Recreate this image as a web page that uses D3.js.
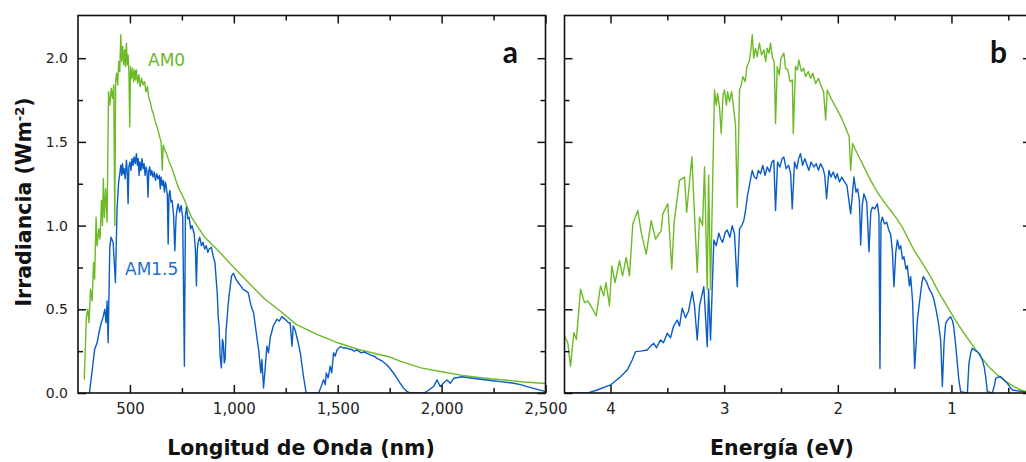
<!DOCTYPE html>
<html>
<head>
<meta charset="utf-8">
<script src="https://cdn.jsdelivr.net/npm/d3@7/dist/d3.min.js"></script>
<style>
  body { margin: 0; background: #fff; }
  text { font-family: "DejaVu Sans", Lato, sans-serif; }
</style>
</head>
<body>
<div id="chart"></div>
<script>
// ---- DATA ----
// panel a: wavelength (nm) vs spectral irradiance
var am0Wavelength = [
  [280, 0.08], [285, 0.25], [290, 0.45], [297, 0.50], [303, 0.42], [310, 0.62],
  [318, 0.55], [325, 0.78], [330, 0.68], [337, 1.05], [342, 0.88], [350, 0.98],
  [356, 0.92], [363, 1.15], [368, 1.00], [372, 1.28], [377, 1.05], [383, 1.22],
  [390, 1.02], [397, 1.80], [403, 1.72], [410, 1.82], [416, 1.76], [422, 1.84],
  [427, 1.00], [431, 1.86], [436, 1.91], [441, 1.84], [446, 1.98], [451, 1.92],
  [456, 2.14], [460, 1.98], [465, 2.07], [470, 1.96], [475, 2.05], [479, 1.95],
  [483, 2.09], [487, 1.96], [491, 2.02], [495, 1.92], [499, 1.59], [503, 1.95],
  [508, 1.88], [513, 1.94], [518, 1.86], [523, 1.93], [527, 1.87], [531, 1.93],
  [537, 1.85], [543, 1.90], [549, 1.83], [556, 1.88], [563, 1.84], [570, 1.86],
  [577, 1.80], [584, 1.83], [591, 1.76], [598, 1.74], [604, 1.70], [612, 1.67],
  [620, 1.63], [628, 1.60], [635, 1.57], [643, 1.53], [650, 1.50], [656, 1.33],
  [660, 1.48], [668, 1.45], [676, 1.43], [684, 1.40], [692, 1.37], [700, 1.35],
  [732, 1.23], [760, 1.16], [796, 1.05], [860, 0.93], [925, 0.85], [1000, 0.75],
  [1070, 0.66], [1150, 0.56], [1223, 0.49], [1300, 0.41], [1400, 0.35], [1480, 0.31],
  [1500, 0.30], [1600, 0.26], [1700, 0.23], [1750, 0.215], [1800, 0.19], [1900, 0.15],
  [2000, 0.127], [2100, 0.105], [2200, 0.09], [2300, 0.078], [2400, 0.066], [2500, 0.057]
];

var am15Wavelength = [
  [305, 0.0], [317, 0.12], [330, 0.26], [342, 0.30], [351, 0.36], [362, 0.42],
  [370, 0.45], [379, 0.50], [385, 0.42], [390, 0.55], [395, 0.30], [403, 0.87],
  [409, 0.93], [419, 0.90], [430, 0.66], [438, 1.10], [445, 1.25], [451, 1.31],
  [456, 1.36], [460, 1.30], [464, 1.37], [468, 1.31], [472, 1.34], [477, 1.28],
  [483, 1.39], [487, 1.32], [491, 1.13], [495, 1.35], [500, 1.38], [505, 1.33],
  [510, 1.40], [515, 1.36], [520, 1.41], [526, 1.37], [531, 1.43], [536, 1.36],
  [540, 1.40], [544, 1.30], [548, 1.38], [553, 1.33], [558, 1.40], [563, 1.34],
  [568, 1.37], [573, 1.30], [578, 1.35], [583, 1.31], [587, 1.17], [591, 1.33],
  [595, 1.35], [600, 1.30], [605, 1.33], [611, 1.29], [617, 1.32], [623, 1.27],
  [629, 1.31], [635, 1.28], [641, 1.30], [646, 1.22], [650, 1.29], [655, 1.24],
  [660, 1.27], [666, 1.20], [670, 1.26], [674, 1.24], [680, 1.18], [684, 0.89],
  [688, 1.18], [692, 1.21], [698, 1.14], [703, 1.15], [710, 1.06], [716, 0.85],
  [722, 1.05], [727, 1.10], [732, 1.13], [739, 1.08], [746, 1.12], [754, 1.05],
  [762, 0.16], [767, 1.06], [772, 1.11], [779, 1.04], [785, 1.05], [792, 0.98],
  [799, 1.00], [809, 0.95], [815, 0.86], [820, 0.64], [824, 0.85], [828, 0.90],
  [836, 0.93], [844, 0.88], [852, 0.90], [860, 0.86], [867, 0.88], [875, 0.84],
  [881, 0.86], [892, 0.87], [900, 0.82], [909, 0.78], [915, 0.68], [920, 0.60],
  [925, 0.45], [929, 0.40], [934, 0.22], [940, 0.15], [945, 0.32], [949, 0.30],
  [954, 0.18], [958, 0.20], [963, 0.38], [968, 0.45], [972, 0.52], [977, 0.58],
  [983, 0.64], [989, 0.70], [998, 0.715], [1010, 0.68], [1021, 0.66], [1033, 0.64],
  [1045, 0.62], [1057, 0.61], [1069, 0.60], [1083, 0.52], [1095, 0.48], [1108, 0.36],
  [1120, 0.25], [1130, 0.12], [1135, 0.20], [1143, 0.03], [1151, 0.15], [1159, 0.28],
  [1167, 0.24], [1175, 0.33], [1190, 0.40], [1207, 0.44], [1219, 0.43], [1231, 0.456],
  [1247, 0.44], [1263, 0.42], [1271, 0.42], [1280, 0.28], [1286, 0.40], [1295, 0.376],
  [1310, 0.30], [1320, 0.24], [1335, 0.10], [1348, 0.0], [1408, 0.0], [1421, 0.04],
  [1432, 0.08], [1440, 0.05], [1445, 0.12], [1454, 0.09], [1464, 0.16], [1471, 0.12],
  [1480, 0.24], [1488, 0.22], [1496, 0.257], [1512, 0.277], [1527, 0.27], [1545, 0.267],
  [1565, 0.26], [1580, 0.25], [1593, 0.257], [1613, 0.24], [1627, 0.245], [1641, 0.237],
  [1662, 0.225], [1675, 0.22], [1689, 0.207], [1715, 0.19], [1737, 0.167], [1753, 0.145],
  [1769, 0.118], [1787, 0.085], [1801, 0.058], [1816, 0.03], [1834, 0.008], [1850, 0.0],
  [1914, 0.0], [1936, 0.015], [1962, 0.04], [1978, 0.078], [1994, 0.038], [2009, 0.06],
  [2026, 0.078], [2042, 0.058], [2058, 0.088], [2099, 0.097], [2139, 0.09], [2187, 0.082],
  [2235, 0.075], [2283, 0.068], [2347, 0.058], [2380, 0.05], [2412, 0.038], [2452, 0.025],
  [2500, 0.008]
];

// panel b: photon energy (eV) vs irradiance
var am0Energy = [
  [4.405, 0.34], [4.376, 0.30], [4.352, 0.16], [4.323, 0.36], [4.30, 0.32], [4.264, 0.62],
  [4.229, 0.54], [4.20, 0.55], [4.156, 0.50], [4.126, 0.46], [4.088, 0.64], [4.06, 0.58],
  [4.04, 0.66], [4.009, 0.52], [3.989, 0.76], [3.96, 0.66], [3.921, 0.79], [3.894, 0.70],
  [3.862, 0.81], [3.833, 0.70], [3.804, 1.01], [3.760, 1.09], [3.73, 0.96], [3.686, 0.83],
  [3.642, 1.03], [3.604, 0.92], [3.554, 0.97], [3.540, 1.07], [3.496, 1.13], [3.461, 0.74],
  [3.44, 1.02], [3.393, 1.27], [3.349, 1.29], [3.33, 1.08], [3.284, 1.41], [3.26, 1.05],
  [3.237, 0.72], [3.217, 1.05], [3.19, 1.00], [3.173, 1.35], [3.149, 0.62], [3.137, 1.30],
  [3.120, 0.62], [3.085, 1.81], [3.07, 1.72], [3.058, 1.79], [3.04, 1.70], [3.026, 1.55],
  [3.01, 1.78], [2.997, 1.81], [2.98, 1.72], [2.97, 1.80], [2.953, 1.74], [2.935, 1.80],
  [2.92, 1.72], [2.90, 1.60], [2.885, 1.11], [2.865, 1.81], [2.85, 1.84], [2.835, 1.89],
  [2.815, 1.86], [2.80, 1.95], [2.78, 1.98], [2.765, 2.05], [2.753, 2.14], [2.74, 2.00],
  [2.725, 2.06], [2.709, 2.01], [2.69, 2.09], [2.671, 2.02], [2.65, 2.05], [2.635, 1.98],
  [2.621, 2.06], [2.605, 2.03], [2.592, 2.09], [2.575, 2.00], [2.56, 1.98], [2.548, 1.61],
  [2.533, 1.95], [2.515, 1.90], [2.50, 2.00], [2.475, 2.03], [2.46, 1.94], [2.44, 1.93],
  [2.42, 1.86], [2.40, 1.87], [2.392, 1.55], [2.372, 1.95], [2.355, 1.93], [2.343, 1.99],
  [2.32, 1.92], [2.30, 1.94], [2.284, 1.89], [2.26, 1.92], [2.240, 1.88], [2.22, 1.91],
  [2.196, 1.85], [2.17, 1.88], [2.15, 1.84], [2.125, 1.80], [2.107, 1.63], [2.093, 1.81],
  [2.06, 1.76], [2.020, 1.71], [1.98, 1.66], [1.946, 1.61], [1.90, 1.53], [1.887, 1.33],
  [1.87, 1.49], [1.835, 1.44], [1.799, 1.39], [1.755, 1.33], [1.711, 1.27], [1.67, 1.22],
  [1.623, 1.17], [1.58, 1.13], [1.535, 1.09], [1.48, 1.04], [1.432, 0.99], [1.38, 0.92],
  [1.330, 0.854], [1.26, 0.78], [1.183, 0.695], [1.11, 0.60], [1.036, 0.516], [0.96, 0.43],
  [0.890, 0.357], [0.816, 0.287], [0.743, 0.217], [0.67, 0.155], [0.596, 0.108], [0.52, 0.068],
  [0.450, 0.038], [0.39, 0.018], [0.338, 0.008], [0.30, 0.005]
];

var am15Energy = [
  [4.40, 0.0], [4.20, 0.0], [4.117, 0.018], [4.0, 0.048], [3.912, 0.097], [3.853, 0.137],
  [3.809, 0.197], [3.780, 0.247], [3.736, 0.25], [3.677, 0.257], [3.648, 0.28], [3.619, 0.297],
  [3.595, 0.27], [3.560, 0.317], [3.534, 0.30], [3.501, 0.357], [3.472, 0.33], [3.445, 0.40],
  [3.413, 0.436], [3.393, 0.40], [3.369, 0.506], [3.340, 0.45], [3.313, 0.49], [3.281, 0.605],
  [3.261, 0.52], [3.237, 0.317], [3.217, 0.52], [3.179, 0.635], [3.149, 0.277], [3.137, 0.62],
  [3.120, 0.317], [3.091, 0.914], [3.07, 0.88], [3.047, 0.954], [3.03, 0.92], [3.014, 0.90],
  [2.99, 0.96], [2.973, 0.974], [2.95, 0.93], [2.929, 1.0], [2.909, 0.95], [2.885, 0.635],
  [2.865, 0.98], [2.845, 1.00], [2.827, 1.03], [2.81, 1.10], [2.797, 1.17], [2.775, 1.25],
  [2.753, 1.33], [2.735, 1.29], [2.715, 1.28], [2.70, 1.33], [2.680, 1.31], [2.66, 1.36],
  [2.64, 1.30], [2.621, 1.35], [2.60, 1.32], [2.58, 1.38], [2.563, 1.39], [2.548, 1.09],
  [2.530, 1.38], [2.51, 1.35], [2.49, 1.40], [2.475, 1.41], [2.455, 1.34], [2.433, 1.36],
  [2.415, 1.31], [2.401, 1.10], [2.381, 1.38], [2.36, 1.34], [2.345, 1.40], [2.328, 1.43],
  [2.31, 1.36], [2.29, 1.40], [2.275, 1.37], [2.255, 1.33], [2.235, 1.38], [2.211, 1.35],
  [2.19, 1.37], [2.17, 1.33], [2.152, 1.37], [2.13, 1.34], [2.115, 1.30], [2.099, 1.16],
  [2.078, 1.33], [2.06, 1.29], [2.04, 1.32], [2.02, 1.28], [2.005, 1.31], [1.985, 1.26],
  [1.965, 1.29], [1.949, 1.27], [1.92, 1.24], [1.887, 1.07], [1.858, 1.29], [1.84, 1.20],
  [1.826, 1.22], [1.81, 1.15], [1.799, 0.884], [1.785, 1.12], [1.770, 1.19], [1.745, 1.14],
  [1.726, 0.844], [1.71, 1.08], [1.696, 1.11], [1.675, 1.10], [1.652, 1.13], [1.638, 1.06],
  [1.629, 0.147], [1.62, 1.02], [1.608, 1.05], [1.59, 1.01], [1.570, 1.02], [1.55, 0.97],
  [1.535, 0.95], [1.52, 0.85], [1.506, 0.635], [1.49, 0.84], [1.476, 0.914], [1.46, 0.86],
  [1.447, 0.88], [1.43, 0.80], [1.418, 0.814], [1.40, 0.74], [1.388, 0.76], [1.37, 0.64],
  [1.359, 0.695], [1.342, 0.55], [1.324, 0.147], [1.31, 0.30], [1.300, 0.436], [1.285, 0.52],
  [1.271, 0.60], [1.26, 0.66], [1.248, 0.695], [1.235, 0.68], [1.216, 0.66], [1.195, 0.62],
  [1.174, 0.596], [1.155, 0.56], [1.136, 0.50], [1.115, 0.42], [1.095, 0.317], [1.080, 0.038],
  [1.065, 0.30], [1.051, 0.416], [1.03, 0.44], [1.007, 0.456], [0.99, 0.43], [0.981, 0.40],
  [0.965, 0.30], [0.948, 0.177], [0.935, 0.08], [0.919, 0.008], [0.860, 0.0], [0.846, 0.177],
  [0.83, 0.24], [0.816, 0.267], [0.795, 0.255], [0.772, 0.247], [0.75, 0.23], [0.728, 0.197],
  [0.71, 0.15], [0.699, 0.097], [0.684, 0.008], [0.640, 0.0], [0.62, 0.05], [0.611, 0.088],
  [0.59, 0.095], [0.567, 0.097], [0.54, 0.08], [0.508, 0.058], [0.485, 0.035], [0.464, 0.018],
  [0.391, 0.01], [0.338, 0.005]
];

// ticks
var yMajorTicks = [0, 0.5, 1.0, 1.5, 2.0];
var yMinorTicks = [0.25, 0.75, 1.25, 1.75];
var nmMajorTicks = [500, 1000, 1500, 2000, 2500];
var nmMinorTicks = [750, 1250, 1750, 2250];
var evMajorTicks = [4, 3, 2, 1];
var evMinorTicks = [3.5, 2.5, 1.5, 0.5];

var svgWidth = 1026;
var svgHeight = 462;
var plotTop = 15.5;
var plotBottom = 393;
var greenColor = "#6cbb26";
var blueColor = "#0a5cc6";

var svg = d3.select("#chart")
    .append("svg")
    .attr("width", svgWidth)
    .attr("height", svgHeight);

var yScale = d3.scaleLinear()
    .domain([0, 2.255])
    .range([plotBottom, plotTop]);

var xNm = d3.scaleLinear()
    .domain([250, 2500])
    .range([78, 545.5]);

var xEv = d3.scaleLinear()
    .domain([4.405, 0.3])
    .range([564.5, 1031]);

// draws one framed panel with inward ticks on all four sides
function drawPanel(id, x, majorX, minorX, xFormat, showYLabels, am0, am15) {
    var x0 = x.range()[0], x1 = x.range()[1];
    var g = svg.append("g");

    svg.append("clipPath").attr("id", "clip-" + id)
        .append("rect")
        .attr("x", x0).attr("y", plotTop)
        .attr("width", x1 - x0).attr("height", plotBottom - plotTop);

    var line = d3.line()
        .x(d => x(d[0]))
        .y(d => yScale(d[1]));

    var lines = g.append("g").attr("clip-path", "url(#clip-" + id + ")");
    lines.append("path")
        .datum(am0)
        .attr("d", line)
        .attr("fill", "none")
        .attr("stroke", greenColor)
        .attr("stroke-width", 1.4)
        .attr("stroke-linejoin", "round");
    lines.append("path")
        .datum(am15)
        .attr("d", line)
        .attr("fill", "none")
        .attr("stroke", blueColor)
        .attr("stroke-width", 1.4)
        .attr("stroke-linejoin", "round");

    // axes (inward ticks = negative size)
    function addAxis(axis, transform, fontSize) {
        var a = g.append("g")
            .attr("transform", transform)
            .call(axis);
        a.select(".domain").remove();
        a.selectAll("line").attr("stroke", "#111").attr("stroke-width", 1.5);
        a.selectAll("text")
            .attr("fill", "#222")
            .style("font-family", "'DejaVu Sans', sans-serif")
            .style("font-size", fontSize + "px");
        return a;
    }

    addAxis(d3.axisBottom(x).tickValues(majorX).tickSize(-8).tickPadding(10).tickFormat(xFormat),
        `translate(0, ${plotBottom})`, 15);
    addAxis(d3.axisBottom(x).tickValues(minorX).tickSize(-5).tickFormat(""),
        `translate(0, ${plotBottom})`, 0);
    addAxis(d3.axisTop(x).tickValues(majorX).tickSize(-8).tickFormat(""),
        `translate(0, ${plotTop})`, 0);
    addAxis(d3.axisTop(x).tickValues(minorX).tickSize(-5).tickFormat(""),
        `translate(0, ${plotTop})`, 0);

    addAxis(d3.axisLeft(yScale).tickValues(yMajorTicks).tickSize(-8).tickPadding(10)
        .tickFormat(showYLabels ? d3.format(".1f") : ""),
        `translate(${x0}, 0)`, showYLabels ? 14 : 0);
    addAxis(d3.axisLeft(yScale).tickValues(yMinorTicks).tickSize(-5).tickFormat(""),
        `translate(${x0}, 0)`, 0);
    addAxis(d3.axisRight(yScale).tickValues(yMajorTicks).tickSize(-8).tickFormat(""),
        `translate(${x1}, 0)`, 0);
    addAxis(d3.axisRight(yScale).tickValues(yMinorTicks).tickSize(-5).tickFormat(""),
        `translate(${x1}, 0)`, 0);

    g.append("rect")
        .attr("x", x0).attr("y", plotTop)
        .attr("width", x1 - x0).attr("height", plotBottom - plotTop)
        .attr("fill", "none")
        .attr("stroke", "#111")
        .attr("stroke-width", 1.6);

    return g;
}

var panelA = drawPanel("a", xNm, nmMajorTicks, nmMinorTicks, d3.format(","), true,
    am0Wavelength, am15Wavelength);
var panelB = drawPanel("b", xEv, evMajorTicks, evMinorTicks, d3.format("d"), false,
    am0Energy, am15Energy);

// series labels
panelA.append("text")
    .attr("x", 148).attr("y", 66)
    .attr("fill", "#6cb52a")
    .style("font-size", "17px")
    .text("AM0");
panelA.append("text")
    .attr("x", 125).attr("y", 275)
    .attr("fill", "#1b6fd1")
    .style("font-size", "17px")
    .text("AM1.5");

// panel letters
panelA.append("text")
    .attr("x", 518).attr("y", 63)
    .attr("text-anchor", "end")
    .style("font-family", "Lato, sans-serif")
    .style("font-size", "30px").style("font-weight", "bold")
    .attr("fill", "#111")
    .text("a");
panelB.append("text")
    .attr("x", 1007).attr("y", 63)
    .attr("text-anchor", "end")
    .style("font-family", "Lato, sans-serif")
    .style("font-size", "30px").style("font-weight", "bold")
    .attr("fill", "#111")
    .text("b");

// axis titles
svg.append("text")
    .attr("x", 301).attr("y", 455)
    .attr("text-anchor", "middle")
    .style("font-size", "20.5px").style("font-weight", "bold")
    .attr("fill", "#111")
    .text("Longitud de Onda (nm)");
svg.append("text")
    .attr("x", 782).attr("y", 455)
    .attr("text-anchor", "middle")
    .style("font-size", "20.5px").style("font-weight", "bold")
    .attr("fill", "#111")
    .text("Energía (eV)");

var yTitle = svg.append("text")
    .attr("transform", "translate(31, 202) rotate(-90)")
    .attr("text-anchor", "middle")
    .style("font-size", "20.5px").style("font-weight", "bold")
    .attr("fill", "#111");
yTitle.append("tspan").text("Irradiancia (Wm");
yTitle.append("tspan").attr("dy", "-7").style("font-size", "13px").text("-2");
yTitle.append("tspan").attr("dy", "7").text(")");
</script>
</body>
</html>
